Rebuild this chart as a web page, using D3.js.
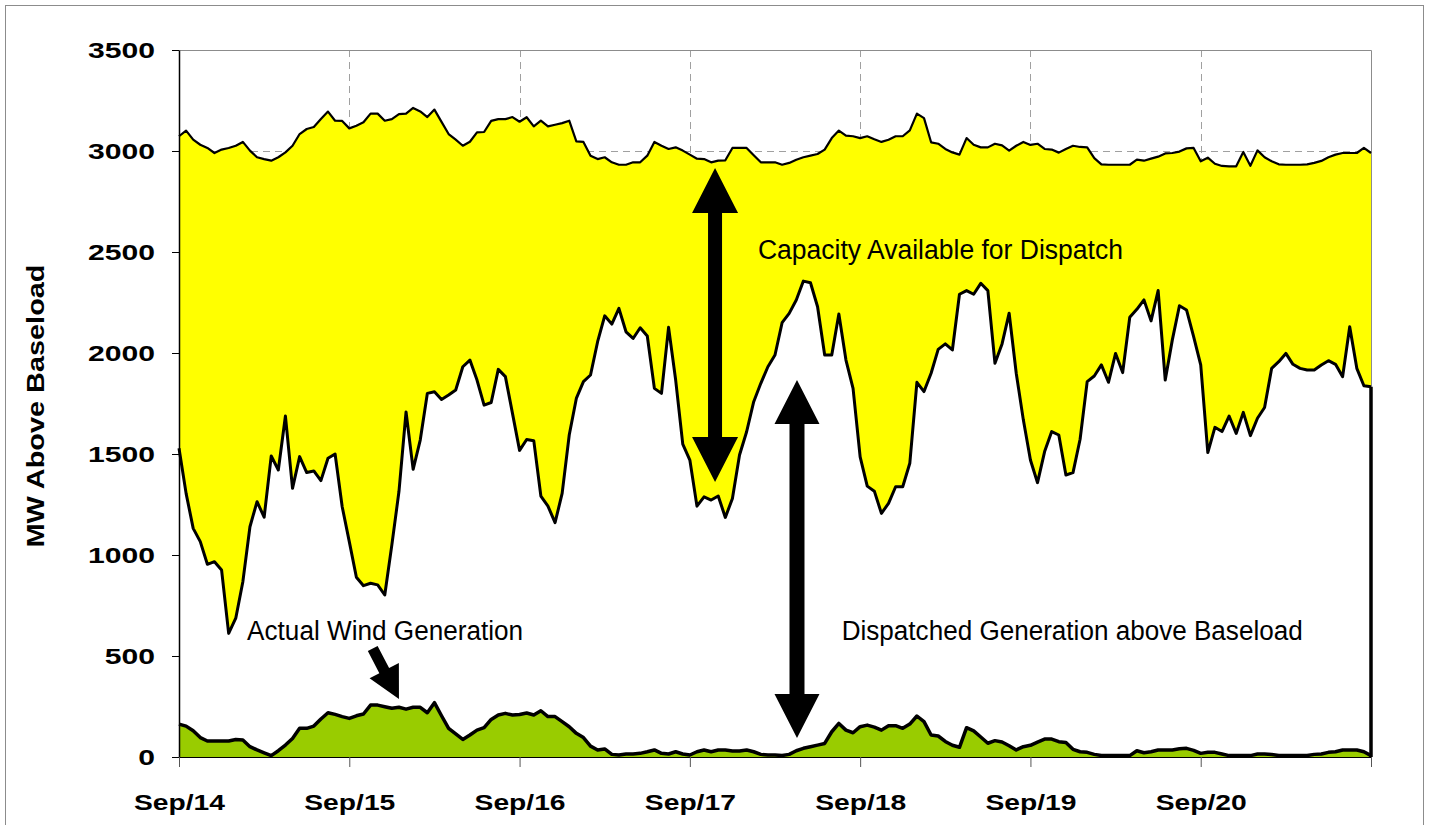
<!DOCTYPE html>
<html><head><meta charset="utf-8">
<script src="https://cdn.jsdelivr.net/npm/d3@7"></script>
<style>
html,body{margin:0;padding:0;background:#fff;}
svg{display:block;}
</style></head><body>
<svg id="chart" width="1429" height="825"></svg>
<script>
// ---------- data (hourly, Sep 14 00:00 .. Sep 21 00:00) ----------
const dayTicks = [0, 24, 48, 72, 96, 120, 144, 168];
const dayLabels = ["Sep/14", "Sep/15", "Sep/16", "Sep/17", "Sep/18", "Sep/19", "Sep/20", ""];
const yTicks = [0, 500, 1000, 1500, 2000, 2500, 3000, 3500];

const capacity = [
3073,3101,3056,3031,3015,2990,3007,3015,3026,3045,3002,2969,2960,2952,2969,2993,3026,3084,3109,3119,3158,3195,3150,3149,
3112,3125,3142,3185,3185,3150,3158,3183,3185,3213,3196,3168,3205,3144,3084,3056,3026,3046,3092,3094,3149,3158,3158,3168,
3145,3167,3122,3150,3122,3130,3138,3150,3048,3045,2977,2960,2969,2944,2932,2932,2944,2944,2977,3045,3026,3010,3018,3002,
2982,2962,2960,2944,2952,2954,3015,3015,3015,2979,2944,2944,2944,2932,2941,2957,2969,2977,2985,3007,3064,3101,3076,3073,
3064,3073,3058,3045,3056,3073,3073,3102,3185,3163,3043,3036,3010,2993,2982,3064,3031,3018,3018,3036,3028,3002,3026,3045,
3030,3036,3010,3007,2992,3010,3026,3020,3018,2965,2934,2932,2932,2932,2932,2957,2952,2962,2972,2988,2990,2997,3013,3015,
2949,2967,2937,2926,2924,2924,2995,2927,3003,2969,2949,2934,2932,2932,2932,2934,2941,2951,2969,2982,2990,2990,2990,3015,
2990];

const dispatched = [
1528,1305,1132,1066,954,967,926,612,687,868,1140,1264,1187,1490,1421,1688,1330,1487,1408,1416,1368,1479,1500,1239,
1066,890,848,860,852,802,1050,1314,1708,1424,1569,1800,1808,1770,1792,1817,1932,1965,1866,1742,1755,1919,1883,1701,
1518,1572,1566,1292,1242,1160,1305,1594,1775,1858,1891,2056,2184,2143,2221,2105,2072,2125,2084,1825,1800,2127,1866,1549,
1470,1242,1288,1272,1292,1186,1280,1495,1610,1759,1850,1932,1990,2150,2196,2262,2356,2348,2229,1990,1990,2193,1965,1825,
1486,1341,1316,1206,1256,1338,1338,1454,1855,1809,1900,2018,2045,2015,2291,2309,2291,2345,2309,1949,2045,2197,1900,1669,
1470,1358,1512,1611,1594,1396,1408,1573,1858,1886,1941,1855,1998,1903,2177,2216,2263,2159,2309,1866,2065,2234,2213,2081,
1941,1507,1632,1611,1688,1602,1706,1591,1677,1730,1924,1957,1998,1944,1924,1916,1916,1941,1962,1944,1883,2130,1924,1838,
1833];

const wind = [
163,153,130,96,79,79,79,79,87,84,51,35,21,7,31,59,92,142,142,153,188,219,211,200,
191,204,213,257,257,249,241,246,237,246,246,219,269,204,142,114,87,109,133,145,186,208,216,208,
210,218,208,229,200,200,175,150,117,96,54,35,40,13,10,15,15,18,26,35,18,15,26,15,
10,26,35,26,35,35,30,30,35,26,13,10,10,7,13,31,43,51,59,67,125,166,133,120,
150,158,148,133,155,155,142,163,203,175,109,104,77,58,48,145,129,99,68,81,74,56,35,51,
58,74,89,89,76,72,38,26,23,13,7,7,7,7,7,31,21,26,35,35,35,41,43,33,
18,23,23,15,7,7,7,7,15,15,12,7,7,7,7,7,13,15,23,26,35,35,35,26,
7];

const annotationTexts = ["Capacity Available for Dispatch", "Actual Wind Generation", "Dispatched Generation above Baseload"];
const yTitle = "MW Above Baseload";

// ---------- layout ----------
const W = 1429, H = 825;
const plot = {left: 179, right: 1371, top: 50, bottom: 757};
const svg = d3.select("#chart");

const x = d3.scaleLinear().domain([0, 168]).range([plot.left, plot.right]);
const y = d3.scaleLinear().domain([0, 3500]).range([plot.bottom, plot.top]);

// outer frame
svg.append("rect").attr("x", 5.5).attr("y", 5.5).attr("width", W - 11).attr("height", H + 20)
  .attr("fill", "#fff").attr("stroke", "#8c8c8c").attr("stroke-width", 1);

// gridlines
const grid = svg.append("g").attr("stroke", "#a0a0a0").attr("stroke-width", 1).attr("stroke-dasharray", "7,5");
grid.selectAll("line.h").data(yTicks.filter(d => d > 0 && d < 3500)).join("line")
  .attr("x1", plot.left).attr("x2", plot.right)
  .attr("y1", d => Math.round(y(d)) + 0.5).attr("y2", d => Math.round(y(d)) + 0.5);
grid.selectAll("line.v").data(dayTicks.filter(d => d > 0 && d < 168)).join("line")
  .attr("y1", plot.top).attr("y2", plot.bottom)
  .attr("x1", d => Math.round(x(d)) + 0.5).attr("x2", d => Math.round(x(d)) + 0.5);

// areas
const areaGen = d3.area().x((d, i) => x(i)).y0(y(0)).y1(d => y(d));
const lineGen = d3.line().x((d, i) => x(i)).y(d => y(d));

svg.append("path").datum(capacity).attr("d", areaGen).attr("fill", "#ffff00");
svg.append("path").datum(dispatched).attr("d", areaGen).attr("fill", "#ffffff");
svg.append("path").datum(wind).attr("d", areaGen).attr("fill", "#99cc00");

// plot border (top & right)
svg.append("path")
  .attr("d", `M${plot.left},${plot.top + 0.5}H${plot.right + 0.5}V${plot.bottom}`)
  .attr("fill", "none").attr("stroke", "#8c8c8c").attr("stroke-width", 1);

// outlines
svg.append("path").datum(capacity).attr("d", lineGen)
  .attr("fill", "none").attr("stroke", "#000").attr("stroke-width", 2.2).attr("stroke-linejoin", "round");
svg.append("path").datum(dispatched).attr("d", lineGen)
  .attr("fill", "none").attr("stroke", "#000").attr("stroke-width", 3).attr("stroke-linejoin", "round");
svg.append("path")
  .datum([[168, dispatched[168]], [168, 0]])
  .attr("d", d3.line().x(d => x(d[0])).y(d => y(d[1])))
  .attr("stroke", "#000").attr("stroke-width", 3.5);
svg.append("path").datum(wind).attr("d", lineGen)
  .attr("fill", "none").attr("stroke", "#000").attr("stroke-width", 3.5).attr("stroke-linejoin", "round");

// axes
const boldFont = "'Liberation Sans', Arial, sans-serif";
const yAxis = svg.append("g").attr("transform", `translate(${plot.left},0)`)
  .call(d3.axisLeft(y).tickValues(yTicks).tickSize(7).tickPadding(17).tickSizeOuter(0)
    .tickFormat(d => String(d)));
yAxis.select(".domain").attr("stroke", "#000").attr("stroke-width", 1.5);
yAxis.selectAll(".tick line").attr("stroke", "#000");
yAxis.selectAll(".tick text")
  .attr("font-family", boldFont).attr("font-weight", "bold").attr("font-size", 22).attr("fill", "#000")
  .attr("dy", "0.36em")
  .attr("textLength", d => String(d).length * 16.75).attr("lengthAdjust", "spacingAndGlyphs");

const xAxis = svg.append("g").attr("transform", `translate(0,${plot.bottom})`)
  .call(d3.axisBottom(x).tickValues(dayTicks).tickSize(10).tickSizeOuter(0)
    .tickFormat((d, i) => dayLabels[i]));
xAxis.select(".domain").attr("stroke", "#000").attr("stroke-width", 1);
xAxis.selectAll(".tick line").attr("stroke", "#555");
xAxis.selectAll(".tick text")
  .attr("font-family", boldFont).attr("font-weight", "bold").attr("font-size", 22).attr("fill", "#000")
  .attr("y", 53).attr("dy", 0)
  .attr("textLength", (d, i) => dayLabels[i] ? 91 : null).attr("lengthAdjust", "spacingAndGlyphs");

// y title
const narrow = "'Liberation Sans Narrow', 'Arial Narrow', 'Liberation Sans', sans-serif";
svg.append("text")
  .attr("transform", `translate(44,406) rotate(-90)`)
  .attr("text-anchor", "middle").attr("font-family", narrow).attr("font-weight", "bold")
  .attr("font-size", 23).attr("fill", "#000")
  .attr("textLength", 283).attr("lengthAdjust", "spacingAndGlyphs")
  .text(yTitle);

// annotation text (positions in data space)
const labels = [
  {t: annotationTexts[0], h: 81.6, v: 2465, len: 365},
  {t: annotationTexts[1], h: 9.6, v: 579, len: 276},
  {t: annotationTexts[2], h: 93.4, v: 579, len: 461}
];
svg.selectAll("text.ann").data(labels).join("text").attr("class", "ann")
  .attr("x", d => x(d.h)).attr("y", d => y(d.v))
  .attr("font-family", narrow).attr("font-size", 27).attr("fill", "#000")
  .attr("textLength", d => d.len).attr("lengthAdjust", "spacingAndGlyphs")
  .text(d => d.t);

// arrows
function arrowPath(x0, y0, x1, y1, shaftW, headW, headL, both) {
  const dx = x1 - x0, dy = y1 - y0, L = Math.hypot(dx, dy);
  const ux = dx / L, uy = dy / L, px = -uy, py = ux;
  const P = (s, o) => [x0 + ux * s + px * o, y0 + uy * s + py * o];
  const sw = shaftW / 2, hw = headW / 2;
  let pts = [];
  if (both) {
    pts = [P(0, 0), P(headL, hw), P(headL, sw), P(L - headL, sw), P(L - headL, hw), P(L, 0),
           P(L - headL, -hw), P(L - headL, -sw), P(headL, -sw), P(headL, -hw)];
  } else {
    pts = [P(0, sw), P(L - headL, sw), P(L - headL, hw), P(L, 0), P(L - headL, -hw), P(L - headL, -sw), P(0, -sw)];
  }
  return "M" + pts.map(p => p.join(",")).join("L") + "Z";
}
const arrowG = svg.append("g").attr("fill", "#000");
// capacity double arrow
arrowG.append("path").attr("d", arrowPath(x(75.55), y(2916), x(75.55), y(1361), 14, 46, 45, true));
// dispatched double arrow
arrowG.append("path").attr("d", arrowPath(x(87.1), y(1866), x(87.1), y(94), 15, 45, 44, true));
// wind pointer arrow
const tipX = x(31.0), tipY = y(287);
const ang = 62.6 * Math.PI / 180, len = 57;
arrowG.append("path").attr("d", arrowPath(tipX - Math.cos(ang) * len, tipY - Math.sin(ang) * len, tipX, tipY, 11, 33, 32, false));
</script>
</body></html>
